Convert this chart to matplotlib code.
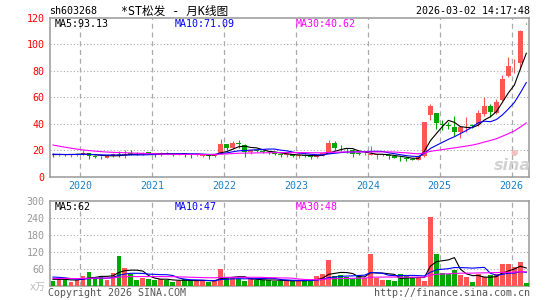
import matplotlib
matplotlib.use('Agg')
import matplotlib.pyplot as plt
import numpy as np

plt.rcParams['font.family'] = ['DejaVu Sans Mono', 'Noto Sans CJK SC']

# ---------------- data (monthly, first candle = 2019-08) ----------------
start_year, start_month = 2019, 8
opens = [17.2, 16.6, 17.1, 16.4, 16.8, 17.1, 17.8, 15.9, 15.2, 14.4,
         15.8, 17.4, 16.2, 17.6, 17.4, 17.0, 18.3, 17.3, 16.5, 17.8,
         17.3, 17.0, 17.4, 16.9, 16.5, 16.0, 16.4, 15.4, 17.0, 24.5,
         21.4, 25.0, 24.0, 18.8, 20.0, 19.6, 18.8, 18.3, 16.8, 16.2,
         16.8, 15.6, 16.6, 15.8, 14.8, 16.0, 17.6, 25.2, 21.8, 21.4,
         20.5, 17.6, 16.9, 16.7, 16.5, 16.3, 16.6, 15.6, 14.4, 13.9,
         13.6, 12.8, 15.3, 46.5, 47.8, 39.8, 38.6, 37.7, 34.0, 37.2,
         38.5, 39.8, 47.2, 53.4, 47.8, 57.9, 76.0, 82.6, 85.6, 116.0]
highs = [18.0, 17.8, 17.5, 17.0, 18.0, 19.8, 18.0, 16.3, 15.8, 16.5,
         18.0, 19.5, 20.2, 19.8, 18.5, 19.0, 18.6, 17.8, 18.5, 18.3,
         17.6, 17.8, 17.6, 17.0, 17.5, 16.9, 16.6, 17.2, 28.4, 25.0,
         27.2, 27.7, 24.5, 20.5, 20.5, 20.2, 19.5, 18.6, 17.0, 17.3,
         17.0, 17.4, 17.2, 16.0, 16.5, 18.2, 27.6, 27.2, 23.8, 21.6,
         20.8, 18.6, 18.4, 23.2, 17.4, 17.2, 17.5, 16.0, 15.6, 15.1,
         14.2, 15.5, 41.5, 54.9, 48.2, 42.8, 41.5, 45.8, 37.5, 44.9,
         39.5, 50.3, 60.0, 54.5, 58.5, 76.8, 90.0, 89.0, 110.5, 116.3]
lows = [15.0, 15.5, 15.8, 14.8, 16.0, 16.5, 13.5, 14.0, 13.5, 13.8,
        15.2, 14.5, 14.0, 16.3, 16.2, 16.5, 16.8, 15.0, 16.0, 16.8,
        16.0, 16.6, 14.5, 14.2, 16.0, 15.2, 13.6, 15.0, 16.8, 20.5,
        20.8, 22.0, 15.2, 17.5, 18.5, 17.8, 17.2, 16.2, 15.2, 15.0,
        15.0, 14.0, 15.0, 13.5, 14.0, 15.5, 17.2, 20.2, 19.5, 17.8,
        14.5, 16.5, 16.5, 16.5, 13.5, 15.8, 13.0, 14.0, 11.7, 12.0,
        12.3, 12.3, 15.1, 42.8, 36.0, 35.2, 35.8, 30.7, 29.2, 34.0,
        36.8, 38.5, 45.5, 45.0, 47.0, 57.0, 75.0, 78.0, 80.5, 115.5]
closes = [16.8, 17.0, 16.6, 16.8, 17.2, 18.0, 15.8, 15.2, 14.5, 15.8,
          17.5, 16.2, 17.3, 17.1, 16.9, 18.2, 17.2, 16.5, 17.8, 17.3,
          17.0, 17.4, 16.8, 16.5, 17.0, 16.4, 15.4, 16.9, 24.7, 21.4,
          25.5, 24.6, 19.0, 20.0, 19.6, 18.8, 18.3, 16.8, 16.2, 16.8,
          15.8, 16.6, 15.8, 14.8, 16.0, 17.6, 25.6, 21.4, 21.4, 20.8,
          17.0, 17.0, 17.2, 16.9, 16.8, 16.6, 15.6, 14.2, 13.8, 13.5,
          12.6, 15.2, 41.5, 53.4, 40.3, 39.0, 38.4, 34.0, 37.2, 37.5,
          38.25, 47.8, 53.4, 49.1, 56.7, 73.5, 83.5, 82.8, 110.05, 115.8]
volumes = [17, 25, 22, 13, 20, 33, 47, 29, 33, 20,
           43, 106, 61, 42, 20, 27, 23, 20, 22, 20,
           14, 16, 22, 18, 17, 17, 12, 18, 58, 29,
           28, 24, 16, 22, 20, 20, 20, 16, 16, 16,
           16, 20, 16, 20, 33, 40, 89, 33, 37, 31,
           23, 34, 27, 112, 27, 21, 21, 16, 40, 34,
           27, 25, 16, 243, 112, 44, 40, 56, 37, 30,
           13, 40, 29, 36, 40, 76, 76, 65, 85, 8]
# history before the first visible month (only used to warm up the moving averages)
prior_closes = [42, 41, 39, 38, 36.6, 30, 28, 26, 25, 23.5, 22, 20.8,
                22.8, 22.5, 22.2, 22, 21.8, 21.5, 21.3, 21.0,
                18.5, 17.8, 17.0, 16.8, 16.5, 16.6, 16.7, 16.5, 16.8]
prior_volumes = [22, 24, 20, 25, 21, 23, 19, 26, 22, 24, 21, 23, 25, 20, 22,
                 24, 21, 23, 22, 23, 35, 40, 42, 36, 37, 25, 22, 24, 22]
years = [2020, 2021, 2022, 2023, 2024, 2025, 2026]
stock_code = "sh603268"
title_text = "*ST松发 - 月K线图"
stamp = "2026-03-02 14:17:48"
# -----------------------------------------------------------------------

W, H = 545, 300
fig = plt.figure(figsize=(W / 100, H / 100), dpi=100)
fig.patch.set_facecolor('white')

def rect(l, t, r, b):
    return [l / W, 1 - b / H, (r - l) / W, (b - t) / H]

ax = fig.add_axes(rect(50, 17.7, 529.3, 176.7))
axv = fig.add_axes(rect(50, 201, 529.3, 285.5))

RED = '#ff5555'
GREEN = '#00a800'
GRID = '#aaaaaa'
FS = 7.2

n = len(closes)
x = np.arange(n)
o = np.array(opens); h = np.array(highs); l = np.array(lows); c = np.array(closes)
v = np.array(volumes, dtype=float)
up = c >= o
cols = np.where(up, RED, GREEN)

def ma(hist, vals, k):
    full = np.concatenate([hist, vals])
    out = np.convolve(full, np.ones(k) / k, mode='valid')
    return out[-len(vals):]

ma5 = ma(prior_closes, c, 5); ma10 = ma(prior_closes, c, 10); ma30 = ma(prior_closes, c, 30)
vma5 = ma(prior_volumes, v, 5); vma10 = ma(prior_volumes, v, 10); vma30 = ma(prior_volumes, v, 30)

year_pos = [(y - start_year) * 12 + (1 - start_month) - 0.45 for y in years]

for a, ymax, hgrid in ((ax, 120, range(20, 101, 20)), (axv, 300, range(60, 241, 60))):
    a.set_xlim(-0.5, n - 0.5)
    a.set_ylim(0, ymax)
    for s in a.spines.values():
        s.set_color('#999999')
        s.set_linewidth(1.1)
    for yy in hgrid:
        a.axhline(yy, color=GRID, lw=0.8, ls=(0, (1, 2)), zorder=0)
    for xp in year_pos:
        a.axvline(xp, color=GRID, lw=0.9, ls=(0, (4, 3)), zorder=0)
    a.set_xticks([])

def ftext(px, py, s, **kw):
    fig.text(px / W, 1 - py / H, s, fontsize=kw.pop('fontsize', FS), **kw)

# sina watermark
ftext(512, 165, 'sina', ha='center', va='center', fontsize=11.5, fontstyle='italic',
      fontweight='bold', color='#d2d2d2', family='DejaVu Sans', zorder=0)
ftext(514, 153, '●', ha='center', va='center', fontsize=6, color='#f2c0c0',
      family='DejaVu Sans', zorder=0)

# candles
ax.vlines(x, l, h, colors=cols, lw=0.8, zorder=3)
body_bottom = np.minimum(o, c)
body_h = np.maximum(np.abs(c - o), 0.5)
ax.bar(x, body_h, bottom=body_bottom, width=0.8, color=cols, linewidth=0, zorder=4)

ax.plot(x, ma5, color='black', lw=0.8, zorder=5)
ax.plot(x, ma10, color='#0000ff', lw=0.8, zorder=5)
ax.plot(x, ma30, color='#ff00ff', lw=0.8, zorder=5)

axv.bar(x, v, width=0.8, color=cols, linewidth=0, zorder=3)
axv.plot(x, vma5, color='black', lw=0.8, zorder=5)
axv.plot(x, vma10, color='#0000ff', lw=0.8, zorder=5)
axv.plot(x, vma30, color='#ff00ff', lw=0.8, zorder=5)

# axis labels
ax.set_yticks(range(0, 121, 20))
ax.tick_params(axis='y', length=0, labelcolor='red', labelsize=FS, pad=4)
axv.set_yticks(range(60, 301, 60))
axv.tick_params(axis='y', length=0, labelcolor='#999999', labelsize=FS, pad=4)

for yv, xp in zip(years, year_pos):
    ax.text(xp, -0.06, str(yv), transform=ax.get_xaxis_transform(), ha='center', va='center',
            fontsize=FS, color='#1a80c8')

ftext(49, 11, stock_code, ha='left', va='center', color='black')
ftext(121, 11, title_text, ha='left', va='center', color='black', fontsize=8.4)
ftext(530, 11, stamp, ha='right', va='center', color='black')

ftext(55, 24, f"MA5:{ma5[-1]:.2f}", ha='left', va='center', color='black')
ftext(175, 24, f"MA10:{ma10[-1]:.2f}", ha='left', va='center', color='#0000ff')
ftext(296, 24, f"MA30:{ma30[-1]:.2f}", ha='left', va='center', color='#ff00ff')

ftext(55, 207, f"MA5:{vma5[-1]:.0f}", ha='left', va='center', color='black')
ftext(175, 207, f"MA10:{vma10[-1]:.0f}", ha='left', va='center', color='#0000ff')
ftext(296, 207, f"MA30:{vma30[-1]:.0f}", ha='left', va='center', color='#ff00ff')

ftext(46, 287, "x万", ha='right', va='center', color='#bbbbbb')
ftext(48, 293, "Copyright 2026 SINA.COM", ha='left', va='center', color='#555555')
ftext(530, 293, "http://finance.sina.com.cn", ha='right', va='center', color='#555555')

fig.savefig('out.png', dpi=100, facecolor='white')
